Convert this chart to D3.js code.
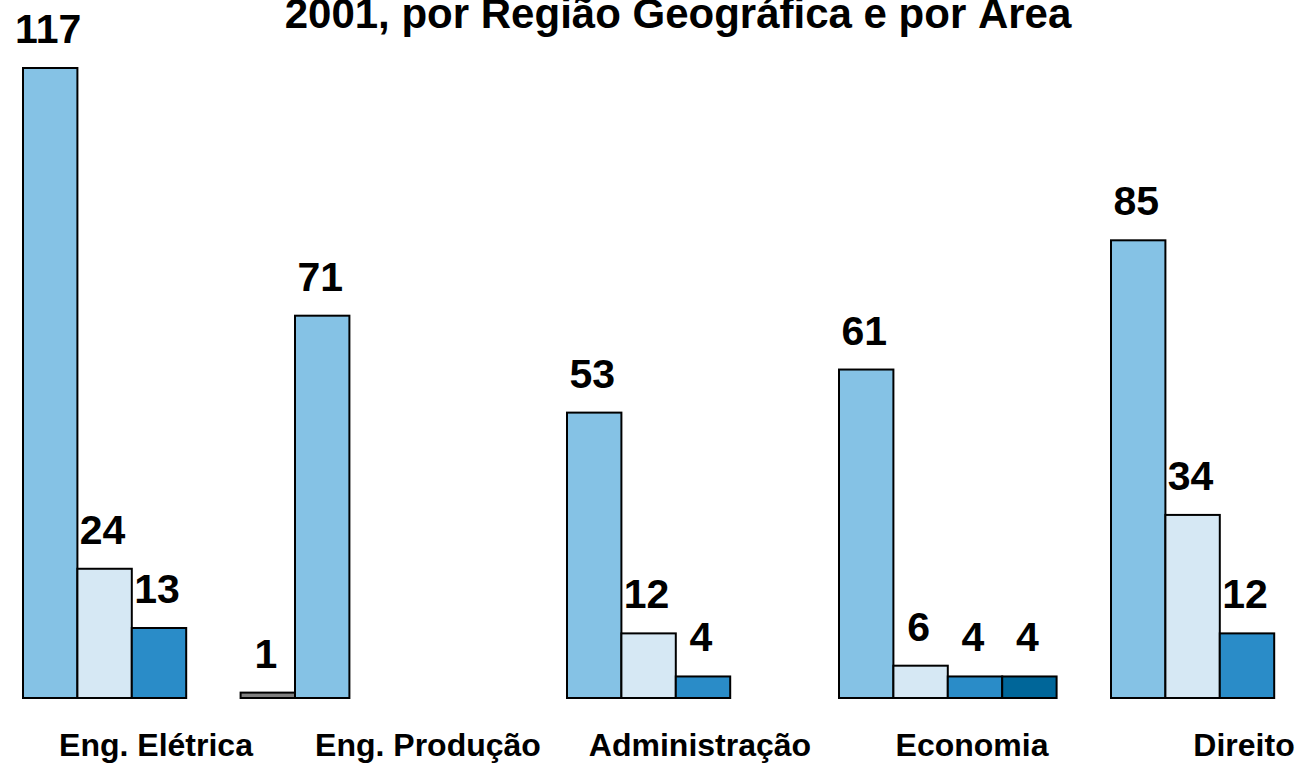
<!DOCTYPE html>
<html>
<head>
<meta charset="utf-8">
<script src="https://cdn.jsdelivr.net/npm/d3@7"></script>
<style>
	body { margin: 0; background: #fff; }
	text { font-family: "Liberation Sans", Arial, sans-serif; font-weight: bold; fill: #000; }
</style>
</head>
<body>
<div id="chart-area"></div>
<script>
let width = 1303;
let height = 763;

// data
let categories = ["Eng. Elétrica", "Eng. Produção", "Administração", "Economia", "Direito"];
let seriesNames = ["s1", "s2", "s3", "s4", "s5"];
let serie1 = [117, 71, 53, 61, 85];
let serie2 = [24, 0, 12, 6, 34];
let serie3 = [13, 0, 4, 4, 12];
let serie4 = [0, 0, 0, 4, 0];
let serie5 = [1, 0, 0, 0, 0];
let colors = ["#85c2e5", "#d6e8f4", "#2a8cc8", "#006699", "#808080"];
let title = "2001, por Região Geográfica e por Área";

let allSeries = [serie1, serie2, serie3, serie4, serie5];

let svg = d3.select("#chart-area")
	.append("svg")
	.attr("width", width)
	.attr("height", height);

// flatten to one row per bar
let bars = [];
categories.forEach((c, i) => {
	allSeries.forEach((s, j) => {
		bars.push({ category: c, series: seriesNames[j], value: s[i], color: colors[j] });
	});
});

let groupWidth = 272;
let x0 = d3.scaleBand()
	.domain(categories)
	.range([23, 23 + groupWidth * categories.length])
	.paddingInner(0)
	.paddingOuter(0);

let x1 = d3.scaleBand()
	.domain(seriesNames)
	.range([0, x0.bandwidth()]);

let y = d3.scaleLinear()
	.domain([0, 117])
	.range([698, 68]);

// zero values are not drawn
let shown = bars.filter(d => d.value > 0);

svg.selectAll("rect.bar")
	.data(shown)
	.enter()
	.append("rect")
	.attr("class", "bar")
	.attr("x", d => x0(d.category) + x1(d.series))
	.attr("y", d => y(d.value))
	.attr("width", x1.bandwidth())
	.attr("height", d => y(0) - y(d.value))
	.attr("fill", d => d.color)
	.attr("stroke", "#000")
	.attr("stroke-width", 2);

// value labels
svg.selectAll("text.value")
	.data(shown)
	.enter()
	.append("text")
	.attr("class", "value")
	.attr("x", d => x0(d.category) + x1(d.series) + x1.bandwidth() / 2 - 2)
	.attr("y", d => y(d.value) - 25)
	.attr("text-anchor", "middle")
	.style("font-size", "41px")
	.text(d => d.value);

// category labels
svg.selectAll("text.cat")
	.data(categories)
	.enter()
	.append("text")
	.attr("class", "cat")
	.attr("x", d => x0(d) + x0.bandwidth() / 2 - 3)
	.attr("y", 756)
	.attr("text-anchor", "middle")
	.style("font-size", "32px")
	.text(d => d);

// title (first line falls outside the picture)
svg.append("text")
	.attr("x", 678)
	.attr("y", 28)
	.attr("text-anchor", "middle")
	.style("font-size", "42px")
	.text(title);
</script>
</body>
</html>
